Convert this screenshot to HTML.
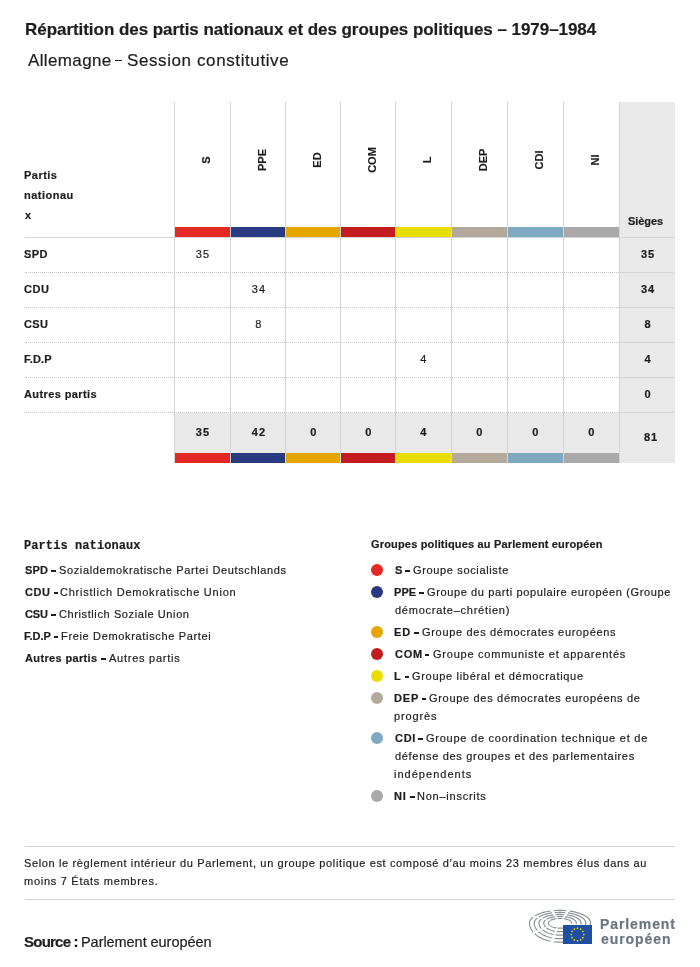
<!DOCTYPE html>
<html><head><meta charset="utf-8"><style>
html,body{margin:0;padding:0;background:#fff;}
body{width:700px;height:967px;position:relative;overflow:hidden;font-family:"Liberation Sans",sans-serif;color:#1e1e1e;}
.t{position:absolute;white-space:nowrap;will-change:transform;-webkit-text-stroke:0.2px currentColor;}
.r{position:absolute;}
</style></head><body>
<div class="t" style="left:25.10px;top:20.61px;font-size:17px;line-height:17px;font-weight:700;letter-spacing:-0.046px;">Répartition des partis nationaux et des groupes politiques – 1979–1984</div>
<div class="t" style="left:27.50px;top:51.51px;font-size:17px;line-height:17px;letter-spacing:0.370px;">Allemagne</div>
<div class="r" style="left:115.4px;top:59.8px;width:7px;height:1.3px;background:#1e1e1e;"></div>
<div class="t" style="left:126.50px;top:51.51px;font-size:17px;line-height:17px;letter-spacing:0.600px;">Session constitutive</div>
<div class="r" style="left:619px;top:102px;width:56px;height:361px;background:#e9e9e9;"></div>
<div class="r" style="left:174px;top:413px;width:445px;height:40px;background:#e9e9e9;"></div>
<div class="r" style="left:174px;top:102px;width:1px;height:361px;background:#d3d5d8;"></div>
<div class="r" style="left:230px;top:102px;width:1px;height:361px;background:#d3d5d8;"></div>
<div class="r" style="left:285px;top:102px;width:1px;height:361px;background:#d3d5d8;"></div>
<div class="r" style="left:340px;top:102px;width:1px;height:361px;background:#d3d5d8;"></div>
<div class="r" style="left:395px;top:102px;width:1px;height:361px;background:#d3d5d8;"></div>
<div class="r" style="left:451px;top:102px;width:1px;height:361px;background:#d3d5d8;"></div>
<div class="r" style="left:507px;top:102px;width:1px;height:361px;background:#d3d5d8;"></div>
<div class="r" style="left:563px;top:102px;width:1px;height:361px;background:#d3d5d8;"></div>
<div class="r" style="left:619px;top:102px;width:1px;height:361px;background:#d3d5d8;"></div>
<div class="t" style="left:24.10px;top:170.09px;font-size:11px;line-height:11px;font-weight:700;letter-spacing:0.480px;">Partis</div>
<div class="t" style="left:24.10px;top:190.09px;font-size:11px;line-height:11px;font-weight:700;letter-spacing:0.500px;">nationau</div>
<div class="t" style="left:25.10px;top:210.09px;font-size:11px;line-height:11px;font-weight:700;">x</div>
<div class="t" style="left:176.0px;top:153.1px;width:60px;height:14px;line-height:14px;text-align:center;font-size:11px;font-weight:700;transform:rotate(-90deg);">S</div>
<div class="t" style="left:231.5px;top:153.1px;width:60px;height:14px;line-height:14px;text-align:center;font-size:11px;font-weight:700;transform:rotate(-90deg);">PPE</div>
<div class="t" style="left:286.5px;top:153.1px;width:60px;height:14px;line-height:14px;text-align:center;font-size:11px;font-weight:700;transform:rotate(-90deg);">ED</div>
<div class="t" style="left:341.5px;top:153.1px;width:60px;height:14px;line-height:14px;text-align:center;font-size:11px;font-weight:700;transform:rotate(-90deg);">COM</div>
<div class="t" style="left:397.0px;top:153.1px;width:60px;height:14px;line-height:14px;text-align:center;font-size:11px;font-weight:700;transform:rotate(-90deg);">L</div>
<div class="t" style="left:453.0px;top:153.1px;width:60px;height:14px;line-height:14px;text-align:center;font-size:11px;font-weight:700;transform:rotate(-90deg);">DEP</div>
<div class="t" style="left:509.0px;top:153.1px;width:60px;height:14px;line-height:14px;text-align:center;font-size:11px;font-weight:700;transform:rotate(-90deg);">CDI</div>
<div class="t" style="left:565.0px;top:153.1px;width:60px;height:14px;line-height:14px;text-align:center;font-size:11px;font-weight:700;transform:rotate(-90deg);">NI</div>
<div class="r" style="left:175px;top:227px;width:55px;height:10px;background:#e42824;"></div>
<div class="r" style="left:175px;top:453px;width:55px;height:10px;background:#e42824;"></div>
<div class="r" style="left:231px;top:227px;width:54px;height:10px;background:#283a80;"></div>
<div class="r" style="left:231px;top:453px;width:54px;height:10px;background:#283a80;"></div>
<div class="r" style="left:286px;top:227px;width:54px;height:10px;background:#e6a600;"></div>
<div class="r" style="left:286px;top:453px;width:54px;height:10px;background:#e6a600;"></div>
<div class="r" style="left:341px;top:227px;width:54px;height:10px;background:#c21c20;"></div>
<div class="r" style="left:341px;top:453px;width:54px;height:10px;background:#c21c20;"></div>
<div class="r" style="left:396px;top:227px;width:55px;height:10px;background:#e9dc00;"></div>
<div class="r" style="left:396px;top:453px;width:55px;height:10px;background:#e9dc00;"></div>
<div class="r" style="left:452px;top:227px;width:55px;height:10px;background:#b3aa9c;"></div>
<div class="r" style="left:452px;top:453px;width:55px;height:10px;background:#b3aa9c;"></div>
<div class="r" style="left:508px;top:227px;width:55px;height:10px;background:#7fa8c1;"></div>
<div class="r" style="left:508px;top:453px;width:55px;height:10px;background:#7fa8c1;"></div>
<div class="r" style="left:564px;top:227px;width:55px;height:10px;background:#a9a9a9;"></div>
<div class="r" style="left:564px;top:453px;width:55px;height:10px;background:#a9a9a9;"></div>
<div class="r" style="left:25px;top:237px;width:650px;height:1px;background:#d3d5d8;"></div>
<div class="t" style="left:627.90px;top:215.69px;font-size:11px;line-height:11px;font-weight:700;letter-spacing:-0.080px;">Sièges</div>
<div class="t" style="left:24.20px;top:248.69px;font-size:11px;line-height:11px;font-weight:700;letter-spacing:0.450px;">SPD</div>
<div class="t" style="left:153.10px;width:100px;text-align:center;top:248.69px;font-size:11px;line-height:11px;letter-spacing:1.200px;">35</div>
<div class="t" style="left:598.00px;width:100px;text-align:center;top:248.69px;font-size:11px;line-height:11px;font-weight:700;letter-spacing:1.000px;">35</div>
<div class="r" style="left:25px;top:272px;width:594px;height:0;border-top:1px dotted #c4c4c4;"></div>
<div class="r" style="left:620px;top:272px;width:55px;height:1px;background:#d3d5d8;"></div>
<div class="t" style="left:24.20px;top:283.69px;font-size:11px;line-height:11px;font-weight:700;letter-spacing:0.600px;">CDU</div>
<div class="t" style="left:208.60px;width:100px;text-align:center;top:283.69px;font-size:11px;line-height:11px;letter-spacing:1.200px;">34</div>
<div class="t" style="left:598.00px;width:100px;text-align:center;top:283.69px;font-size:11px;line-height:11px;font-weight:700;letter-spacing:1.000px;">34</div>
<div class="r" style="left:25px;top:307px;width:594px;height:0;border-top:1px dotted #c4c4c4;"></div>
<div class="r" style="left:620px;top:307px;width:55px;height:1px;background:#d3d5d8;"></div>
<div class="t" style="left:24.20px;top:318.69px;font-size:11px;line-height:11px;font-weight:700;letter-spacing:0.300px;">CSU</div>
<div class="t" style="left:208.60px;width:100px;text-align:center;top:318.69px;font-size:11px;line-height:11px;letter-spacing:1.200px;">8</div>
<div class="t" style="left:598.00px;width:100px;text-align:center;top:318.69px;font-size:11px;line-height:11px;font-weight:700;letter-spacing:1.000px;">8</div>
<div class="r" style="left:25px;top:342px;width:594px;height:0;border-top:1px dotted #c4c4c4;"></div>
<div class="r" style="left:620px;top:342px;width:55px;height:1px;background:#d3d5d8;"></div>
<div class="t" style="left:23.70px;top:353.69px;font-size:11px;line-height:11px;font-weight:700;letter-spacing:0.200px;">F.D.P</div>
<div class="t" style="left:374.10px;width:100px;text-align:center;top:353.69px;font-size:11px;line-height:11px;letter-spacing:1.200px;">4</div>
<div class="t" style="left:598.00px;width:100px;text-align:center;top:353.69px;font-size:11px;line-height:11px;font-weight:700;letter-spacing:1.000px;">4</div>
<div class="r" style="left:25px;top:377px;width:594px;height:0;border-top:1px dotted #c4c4c4;"></div>
<div class="r" style="left:620px;top:377px;width:55px;height:1px;background:#d3d5d8;"></div>
<div class="t" style="left:24.30px;top:388.69px;font-size:11px;line-height:11px;font-weight:700;letter-spacing:0.400px;">Autres partis</div>
<div class="t" style="left:598.00px;width:100px;text-align:center;top:388.69px;font-size:11px;line-height:11px;font-weight:700;letter-spacing:1.000px;">0</div>
<div class="r" style="left:25px;top:412px;width:594px;height:0;border-top:1px dotted #c4c4c4;"></div>
<div class="r" style="left:620px;top:412px;width:55px;height:1px;background:#d3d5d8;"></div>
<div class="t" style="left:153.10px;width:100px;text-align:center;top:426.69px;font-size:11px;line-height:11px;font-weight:700;letter-spacing:1.200px;">35</div>
<div class="t" style="left:208.60px;width:100px;text-align:center;top:426.69px;font-size:11px;line-height:11px;font-weight:700;letter-spacing:1.200px;">42</div>
<div class="t" style="left:263.60px;width:100px;text-align:center;top:426.69px;font-size:11px;line-height:11px;font-weight:700;letter-spacing:1.200px;">0</div>
<div class="t" style="left:318.60px;width:100px;text-align:center;top:426.69px;font-size:11px;line-height:11px;font-weight:700;letter-spacing:1.200px;">0</div>
<div class="t" style="left:374.10px;width:100px;text-align:center;top:426.69px;font-size:11px;line-height:11px;font-weight:700;letter-spacing:1.200px;">4</div>
<div class="t" style="left:430.10px;width:100px;text-align:center;top:426.69px;font-size:11px;line-height:11px;font-weight:700;letter-spacing:1.200px;">0</div>
<div class="t" style="left:486.10px;width:100px;text-align:center;top:426.69px;font-size:11px;line-height:11px;font-weight:700;letter-spacing:1.200px;">0</div>
<div class="t" style="left:542.10px;width:100px;text-align:center;top:426.69px;font-size:11px;line-height:11px;font-weight:700;letter-spacing:1.200px;">0</div>
<div class="t" style="left:600.50px;width:100px;text-align:center;top:431.69px;font-size:11px;line-height:11px;font-weight:700;letter-spacing:1.000px;">81</div>
<div class="t" style="left:24.20px;top:540.14px;font-size:12px;line-height:12px;font-weight:700;font-family:'Liberation Mono',monospace;letter-spacing:0.087px;">Partis nationaux</div>
<div class="t" style="left:24.70px;top:564.69px;font-size:11px;line-height:11px;font-weight:700;letter-spacing:0.150px;">SPD</div>
<div class="r" style="left:50.9px;top:570px;width:5.2px;height:1.55px;background:#1e1e1e;"></div>
<div class="t" style="left:58.60px;top:564.69px;font-size:11px;line-height:11px;letter-spacing:0.632px;">Sozialdemokratische Partei Deutschlands</div>
<div class="t" style="left:24.70px;top:586.69px;font-size:11px;line-height:11px;font-weight:700;letter-spacing:0.600px;">CDU</div>
<div class="r" style="left:53.8px;top:592px;width:4.6px;height:1.55px;background:#1e1e1e;"></div>
<div class="t" style="left:60.40px;top:586.69px;font-size:11px;line-height:11px;letter-spacing:0.766px;">Christlich Demokratische Union</div>
<div class="t" style="left:24.70px;top:608.69px;font-size:11px;line-height:11px;font-weight:700;letter-spacing:-0.100px;">CSU</div>
<div class="r" style="left:51.4px;top:614px;width:4.8px;height:1.55px;background:#1e1e1e;"></div>
<div class="t" style="left:58.60px;top:608.69px;font-size:11px;line-height:11px;letter-spacing:0.600px;">Christlich Soziale Union</div>
<div class="t" style="left:24.20px;top:630.69px;font-size:11px;line-height:11px;font-weight:700;">F.D.P</div>
<div class="r" style="left:53.8px;top:636px;width:4.7px;height:1.55px;background:#1e1e1e;"></div>
<div class="t" style="left:61.00px;top:630.69px;font-size:11px;line-height:11px;letter-spacing:0.660px;">Freie Demokratische Partei</div>
<div class="t" style="left:24.70px;top:652.69px;font-size:11px;line-height:11px;font-weight:700;letter-spacing:0.358px;">Autres partis</div>
<div class="r" style="left:101.4px;top:658px;width:4.8px;height:1.55px;background:#1e1e1e;"></div>
<div class="t" style="left:108.80px;top:652.69px;font-size:11px;line-height:11px;letter-spacing:0.750px;">Autres partis</div>
<div class="t" style="left:370.90px;top:538.99px;font-size:11px;line-height:11px;font-weight:700;letter-spacing:0.169px;">Groupes politiques au Parlement européen</div>
<div class="r" style="left:371px;top:564px;width:12px;height:12px;border-radius:50%;background:#e42824;"></div>
<div class="t" style="left:395.00px;top:564.69px;font-size:11px;line-height:11px;font-weight:700;">S</div>
<div class="r" style="left:405.2px;top:570px;width:4.7px;height:1.55px;background:#1e1e1e;"></div>
<div class="t" style="left:412.90px;top:564.69px;font-size:11px;line-height:11px;letter-spacing:0.644px;">Groupe socialiste</div>
<div class="r" style="left:371px;top:586px;width:12px;height:12px;border-radius:50%;background:#283a80;"></div>
<div class="t" style="left:394.00px;top:586.69px;font-size:11px;line-height:11px;font-weight:700;letter-spacing:0.100px;">PPE</div>
<div class="r" style="left:419.1px;top:592px;width:4.6px;height:1.55px;background:#1e1e1e;"></div>
<div class="t" style="left:427.00px;top:586.69px;font-size:11px;line-height:11px;letter-spacing:0.624px;">Groupe du parti populaire européen (Groupe</div>
<div class="t" style="left:395.00px;top:604.69px;font-size:11px;line-height:11px;letter-spacing:0.750px;">démocrate–chrétien)</div>
<div class="r" style="left:371px;top:626px;width:12px;height:12px;border-radius:50%;background:#e6a600;"></div>
<div class="t" style="left:394.00px;top:626.69px;font-size:11px;line-height:11px;font-weight:700;letter-spacing:0.800px;">ED</div>
<div class="r" style="left:414.0px;top:632px;width:4.6px;height:1.55px;background:#1e1e1e;"></div>
<div class="t" style="left:422.10px;top:626.69px;font-size:11px;line-height:11px;letter-spacing:0.683px;">Groupe des démocrates européens</div>
<div class="r" style="left:371px;top:648px;width:12px;height:12px;border-radius:50%;background:#c21c20;"></div>
<div class="t" style="left:395.00px;top:648.69px;font-size:11px;line-height:11px;font-weight:700;letter-spacing:0.700px;">COM</div>
<div class="r" style="left:424.9px;top:654px;width:4.5px;height:1.55px;background:#1e1e1e;"></div>
<div class="t" style="left:432.90px;top:648.69px;font-size:11px;line-height:11px;letter-spacing:0.763px;">Groupe communiste et apparentés</div>
<div class="r" style="left:371px;top:670px;width:12px;height:12px;border-radius:50%;background:#e9dc00;"></div>
<div class="t" style="left:394.00px;top:670.69px;font-size:11px;line-height:11px;font-weight:700;">L</div>
<div class="r" style="left:404.5px;top:676px;width:4.3px;height:1.55px;background:#1e1e1e;"></div>
<div class="t" style="left:411.90px;top:670.69px;font-size:11px;line-height:11px;letter-spacing:0.690px;">Groupe libéral et démocratique</div>
<div class="r" style="left:371px;top:692px;width:12px;height:12px;border-radius:50%;background:#b3aa9c;"></div>
<div class="t" style="left:394.00px;top:692.69px;font-size:11px;line-height:11px;font-weight:700;letter-spacing:0.800px;">DEP</div>
<div class="r" style="left:421.6px;top:698px;width:4.2px;height:1.55px;background:#1e1e1e;"></div>
<div class="t" style="left:428.90px;top:692.69px;font-size:11px;line-height:11px;letter-spacing:0.685px;">Groupe des démocrates européens de</div>
<div class="t" style="left:394.30px;top:710.69px;font-size:11px;line-height:11px;letter-spacing:0.867px;">progrès</div>
<div class="r" style="left:371px;top:732px;width:12px;height:12px;border-radius:50%;background:#7fa8c1;"></div>
<div class="t" style="left:395.00px;top:732.69px;font-size:11px;line-height:11px;font-weight:700;letter-spacing:0.700px;">CDI</div>
<div class="r" style="left:418.2px;top:738px;width:4.8px;height:1.55px;background:#1e1e1e;"></div>
<div class="t" style="left:425.70px;top:732.69px;font-size:11px;line-height:11px;letter-spacing:0.757px;">Groupe de coordination technique et de</div>
<div class="t" style="left:395.00px;top:750.69px;font-size:11px;line-height:11px;letter-spacing:0.690px;">défense des groupes et des parlementaires</div>
<div class="t" style="left:394.30px;top:768.69px;font-size:11px;line-height:11px;letter-spacing:1.018px;">indépendents</div>
<div class="r" style="left:371px;top:790px;width:12px;height:12px;border-radius:50%;background:#a9a9a9;"></div>
<div class="t" style="left:394.00px;top:790.69px;font-size:11px;line-height:11px;font-weight:700;letter-spacing:0.800px;">NI</div>
<div class="r" style="left:410.3px;top:796px;width:4.6px;height:1.55px;background:#1e1e1e;"></div>
<div class="t" style="left:417.20px;top:790.69px;font-size:11px;line-height:11px;letter-spacing:0.755px;">Non–inscrits</div>
<div class="r" style="left:25px;top:846px;width:650px;height:1px;background:#d3d5d8;"></div>
<div class="t" style="left:24.00px;top:857.69px;font-size:11px;line-height:11px;letter-spacing:0.634px;">Selon le règlement intérieur du Parlement, un groupe politique est composé d’au moins 23 membres élus dans au</div>
<div class="t" style="left:24.00px;top:875.69px;font-size:11px;line-height:11px;letter-spacing:0.719px;">moins 7 États membres.</div>
<div class="r" style="left:25px;top:899px;width:650px;height:1px;background:#d3d5d8;"></div>
<div class="t" style="left:24.00px;top:934.20px;font-size:15px;line-height:15px;font-weight:700;letter-spacing:-0.771px;">Source :</div>
<div class="t" style="left:81.30px;top:934.63px;font-size:14.5px;line-height:14.5px;letter-spacing:-0.053px;">Parlement européen</div>
<svg style="position:absolute;left:527px;top:906px" width="70" height="40" viewBox="0 0 70 40">
<g fill="none" stroke="#8d9499" stroke-width="1.2"><polyline points="63.20,19.67 63.43,18.34 63.50,17.00 63.43,16.12 63.20,15.25 62.83,14.38 62.32,13.53 61.66,12.69 60.86,11.88 59.93,11.08 58.87,10.32 57.68,9.59 56.36,8.90 54.94,8.25 53.41,7.64 51.78,7.07 50.06,6.55 48.25,6.09 46.37,5.68 44.43,5.32 42.43,5.02"/><polyline points="39.34,4.68 37.24,4.52 35.13,4.43 33.00,4.40 30.87,4.43 28.76,4.52 26.66,4.68"/><polyline points="23.57,5.02 21.46,5.34 19.42,5.72 17.44,6.16 15.55,6.66 13.76,7.22 12.07,7.84 10.49,8.50 9.04,9.20 7.71,9.95"/><polyline points="6.07,11.08 5.14,11.88 4.34,12.69 3.68,13.53 3.17,14.38 2.80,15.25 2.57,16.12 2.50,17.00 2.57,18.34 2.80,19.67 3.17,20.99 3.68,22.29 4.34,23.57 5.14,24.81 6.07,26.01"/><polyline points="7.71,27.74 9.04,28.88 10.49,29.96 12.07,30.97 13.76,31.90 15.55,32.75 17.44,33.51 19.42,34.19 21.46,34.77 23.57,35.26"/><polyline points="26.66,35.78 28.89,36.02 31.14,36.16 33.40,36.20 35.66,36.13 37.90,35.95 40.12,35.67 42.30,35.29 44.43,34.80"/><polyline points="58.50,19.19 58.69,18.10 58.75,17.00 58.69,16.26 58.50,15.52 58.19,14.80 57.75,14.08 57.20,13.37 56.52,12.69 55.74,12.02 54.84,11.38 53.83,10.77 52.73,10.19 51.52,9.64 50.23,9.12 48.85,8.65 47.40,8.21 45.88,7.82 44.29,7.47 42.65,7.17 40.96,6.92"/><polyline points="38.35,6.63 36.58,6.50 34.80,6.43 33.00,6.40 31.20,6.43 29.42,6.50 27.65,6.63"/><polyline points="25.04,6.92 23.26,7.19 21.53,7.51 19.87,7.88 18.27,8.31 16.76,8.78 15.33,9.29 14.00,9.85 12.77,10.44 11.65,11.07"/><polyline points="10.26,12.02 9.48,12.69 8.80,13.37 8.25,14.08 7.81,14.80 7.50,15.52 7.31,16.26 7.25,17.00 7.31,18.10 7.50,19.19 7.81,20.26 8.25,21.33 8.80,22.37 9.48,23.39 10.26,24.37"/><polyline points="11.65,25.78 12.77,26.71 14.00,27.60 15.33,28.42 16.76,29.18 18.27,29.88 19.87,30.50 21.53,31.06 23.26,31.53 25.04,31.93"/><polyline points="27.65,32.36 29.53,32.56 31.43,32.67 33.34,32.70 35.24,32.64 37.14,32.50 39.01,32.27 40.85,31.95 42.65,31.56"/><polyline points="53.80,18.70 53.95,17.85 54.00,17.00 53.95,16.40 53.80,15.80 53.54,15.21 53.19,14.63 52.73,14.06 52.18,13.50 51.54,12.96 50.81,12.44 49.99,11.95 49.09,11.47 48.11,11.03 47.05,10.61 45.93,10.22 44.74,9.87 43.50,9.55 42.21,9.27 40.87,9.03 39.49,8.82"/><polyline points="37.37,8.59 35.92,8.48 34.46,8.42 33.00,8.40 31.54,8.42 30.08,8.48 28.63,8.59"/><polyline points="26.51,8.82 25.06,9.04 23.65,9.30 22.29,9.60 20.99,9.95 19.75,10.33 18.59,10.74 17.50,11.20 16.50,11.68 15.59,12.19"/><polyline points="14.46,12.96 13.82,13.50 13.27,14.06 12.81,14.63 12.46,15.21 12.20,15.80 12.05,16.40 12.00,17.00 12.05,17.85 12.20,18.70 12.46,19.54 12.81,20.36 13.27,21.17 13.82,21.96 14.46,22.73"/><polyline points="15.59,23.82 16.50,24.55 17.50,25.23 18.59,25.87 19.75,26.47 20.99,27.01 22.29,27.49 23.65,27.92 25.06,28.29 26.51,28.60"/><polyline points="28.63,28.93 30.17,29.09 31.72,29.18 33.27,29.20 34.83,29.15 36.38,29.04 37.90,28.86 39.40,28.62 40.87,28.31"/><polyline points="49.09,18.21 49.21,17.61 49.25,17.00 49.21,16.54 49.09,16.08 48.89,15.63 48.62,15.18 48.27,14.74 47.85,14.32 47.35,13.90 46.78,13.50 46.15,13.12 45.45,12.76 44.69,12.42 43.87,12.10 43.00,11.80 42.09,11.53 41.12,11.28 40.12,11.07 39.09,10.88 38.02,10.72"/><polyline points="36.38,10.54 35.26,10.46 34.13,10.42 33.00,10.40 31.87,10.42 30.74,10.46 29.62,10.54"/><polyline points="27.98,10.72 26.85,10.89 25.76,11.09 24.71,11.32 23.71,11.59 22.75,11.88 21.85,12.20 21.01,12.55 20.23,12.92 19.53,13.31"/><polyline points="18.65,13.90 18.15,14.32 17.73,14.74 17.38,15.18 17.11,15.63 16.91,16.08 16.79,16.54 16.75,17.00 16.79,17.61 16.91,18.21 17.11,18.81 17.38,19.40 17.73,19.98 18.15,20.54 18.65,21.08"/><polyline points="19.53,21.86 20.23,22.38 21.01,22.87 21.85,23.33 22.75,23.75 23.71,24.14 24.71,24.48 25.76,24.79 26.85,25.05 27.98,25.27"/><polyline points="29.62,25.51 30.81,25.62 32.01,25.68 33.21,25.70 34.42,25.67 35.61,25.59 36.79,25.46 37.95,25.29 39.09,25.07"/><polyline points="44.39,17.72 44.47,17.36 44.50,17.00 44.47,16.68 44.39,16.36 44.25,16.04 44.05,15.73 43.81,15.43 43.51,15.13 43.15,14.84 42.75,14.56 42.30,14.30 41.81,14.04 41.27,13.80 40.70,13.58 40.08,13.38 39.43,13.19 38.75,13.02 38.04,12.87 37.31,12.73 36.55,12.63"/><polyline points="35.39,12.50 34.60,12.44 33.80,12.41 33.00,12.40 32.20,12.41 31.40,12.44 30.61,12.50"/><polyline points="29.45,12.63 28.65,12.74 27.88,12.88 27.13,13.04 26.42,13.23 25.75,13.43 25.11,13.65 24.51,13.90 23.97,14.15 23.47,14.43"/><polyline points="22.85,14.84 22.49,15.13 22.19,15.43 21.95,15.73 21.75,16.04 21.61,16.36 21.53,16.68 21.50,17.00 21.53,17.36 21.61,17.72 21.75,18.08 21.95,18.43 22.19,18.78 22.49,19.12 22.85,19.44"/><polyline points="23.47,19.91 23.97,20.22 24.51,20.51 25.11,20.78 25.75,21.03 26.42,21.27 27.13,21.47 27.88,21.66 28.65,21.81 29.45,21.95"/><polyline points="30.61,22.09 31.45,22.15 32.30,22.19 33.15,22.20 34.00,22.18 34.85,22.13 35.68,22.06 36.51,21.95 37.31,21.82"/></g>
<rect x="36" y="19" width="29" height="19" fill="#1f4fa0"/>
<g transform="translate(36,19)"><circle cx="14.50" cy="3.20" r="0.85" fill="#f2d500"/><circle cx="17.65" cy="4.04" r="0.85" fill="#f2d500"/><circle cx="19.96" cy="6.35" r="0.85" fill="#f2d500"/><circle cx="20.80" cy="9.50" r="0.85" fill="#f2d500"/><circle cx="19.96" cy="12.65" r="0.85" fill="#f2d500"/><circle cx="17.65" cy="14.96" r="0.85" fill="#f2d500"/><circle cx="14.50" cy="15.80" r="0.85" fill="#f2d500"/><circle cx="11.35" cy="14.96" r="0.85" fill="#f2d500"/><circle cx="9.04" cy="12.65" r="0.85" fill="#f2d500"/><circle cx="8.20" cy="9.50" r="0.85" fill="#f2d500"/><circle cx="9.04" cy="6.35" r="0.85" fill="#f2d500"/><circle cx="11.35" cy="4.04" r="0.85" fill="#f2d500"/></g>
</svg>
<div class="t" style="left:599.50px;top:916.75px;font-size:14px;line-height:14px;font-weight:700;letter-spacing:0.912px;color:#6b7780;">Parlement</div>
<div class="t" style="left:600.50px;top:931.75px;font-size:14px;line-height:14px;font-weight:700;letter-spacing:0.943px;color:#6b7780;">européen</div>
</body></html>
